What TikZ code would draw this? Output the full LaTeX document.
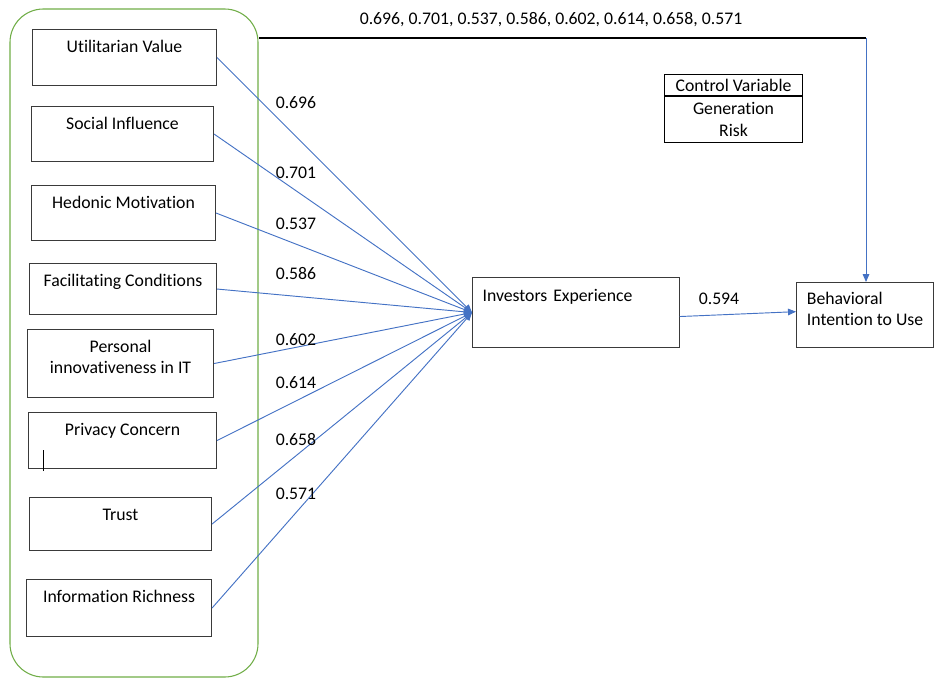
\documentclass[tikz,border=0pt]{standalone}
\usepackage{fontspec}
\setmainfont{Carlito}[Ligatures=NoCommon]
\usetikzlibrary{arrows.meta, positioning}
\definecolor{pBlue}{HTML}{4472C4}
\definecolor{pGreen}{HTML}{70AD47}
\definecolor{pEdge}{HTML}{3A3A3A}

\begin{document}
\begin{tikzpicture}[x=0.75pt, y=-0.75pt, >={Triangle[length=6pt,width=5pt]},
      font=\fontsize{13.3pt}{16pt}\selectfont,
      srcbox/.style={draw=pEdge, line width=0.8pt, anchor=north west, align=center,
        inner ysep=0pt, minimum width=138pt, text height=17pt, text depth=25pt},
      tgtbox/.style={draw=pEdge, line width=0.8pt, anchor=north west, align=left, inner ysep=0pt},
      cvbox/.style={draw=black, line width=0.8pt, align=center, minimum width=103.5pt, inner ysep=0pt},
      val/.style={inner sep=0pt},
      path/.style={draw=pBlue, line width=0.7pt, ->}]
  \useasboundingbox (0,0) rectangle (934,678);
  % grouping frame
  \node[draw=pGreen, line width=0.8pt, rounded corners=25pt, minimum width=186pt,
        minimum height=501pt] (grp) at (134,343) {};
  % predictors
  \node[srcbox] (ut) at (32,29) {Utilitarian Value};
  \node[srcbox, minimum width=136.5pt, text depth=24.25pt] (si) at (31,106) {Social Influence};
  \node[srcbox, text depth=24.25pt] (hm) at (31,185) {Hedonic Motivation};
  \node[srcbox, minimum width=140.25pt, text depth=21.25pt] (fc) at (29,263) {Facilitating Conditions};
  \node[srcbox, minimum width=139.5pt, text height=33pt, text depth=18pt] (pi) at (27,329) {Personal\\innovativeness in IT};
  \node[srcbox, minimum width=141pt] (pc) at (28,412) {Privacy Concern};
  \node[srcbox, minimum width=136.5pt, text depth=22.75pt] (tr) at (29,497) {Trust};
  \node[srcbox, minimum width=138.75pt, text depth=25.75pt] (ir) at (26,579) {Information Richness};
  \draw[line width=0.6pt] ([xshift=11.25pt,yshift=-1.5pt]pc.south west) -- ++(0,-21);
  % mediator and outcome
  \node[tgtbox, inner xsep=7.5pt, text width=140pt, text height=17.7pt, text depth=34.8pt] (ie) at (472,277) {Investors Experience};
  \node[tgtbox, minimum width=102.75pt, text height=32.2pt, text depth=16.5pt] (bi) at (796,282) {Behavioral\\Intention to Use};
  % control variables
  \node[cvbox, anchor=north west, minimum height=15.75pt] (cvh) at (664,74) {Control Variable};
  \node[cvbox, below=0pt of cvh, minimum height=34.5pt] (cvb) {Generation\\Risk};
  % paths
  \draw[path] (ut.east) -- (ie.west); \draw[path] (si.east) -- (ie.west);
  \draw[path] (hm.east) -- (ie.west); \draw[path] (fc.east) -- (ie.west);
  \draw[path] (pi.east) -- (ie.west); \draw[path] (pc.east) -- (ie.west);
  \draw[path] (tr.east) -- (ie.west); \draw[path] (ir.east) -- (ie.west);
  \draw[path] ([yshift=-3pt]ie.east) -- ([yshift=2.5pt]bi.west);
  \coordinate (turn) at (866,38);
  \draw[line width=0.8pt] (grp.east |- turn) -- (turn);
  \draw[path] (turn) -- (turn |- bi.north);
  % loadings
  \node[val] (v1) at (296,103) {0.696};
  \node[val] (v2) at (296,173) {0.701};
  \node[val] (v3) at (296,224) {0.537};
  \node[val] (v4) at (296,274) {0.586};
  \node[val] (v5) at (296,340) {0.602};
  \node[val] (v6) at (296,383) {0.614};
  \node[val] (v7) at (296,440) {0.658};
  \node[val] (v8) at (296,494) {0.571};
  \node[val] (v9) at (719,299) {0.594};
  \node[val] (vall) at (551,20) {0.696, 0.701, 0.537, 0.586, 0.602, 0.614, 0.658, 0.571};
\end{tikzpicture}
\end{document}
